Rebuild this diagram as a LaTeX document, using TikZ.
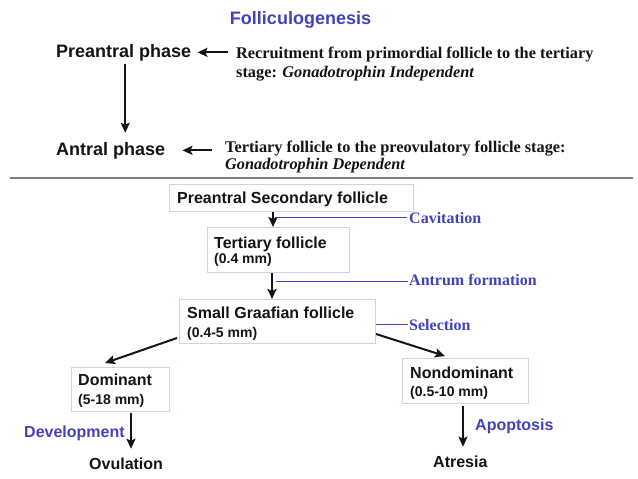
\documentclass[tikz,border=0pt]{standalone}
\usepackage{fontspec}
\setmainfont{Liberation Serif}
\newfontfamily\arialf{Liberation Sans}
\usetikzlibrary{arrows.meta,calc}
\definecolor{ttl}{RGB}{66,66,190}
\definecolor{boxc}{RGB}{208,208,240}
\definecolor{sepc}{RGB}{128,128,128}
\definecolor{ink}{RGB}{20,20,20}
\begin{document}
\begin{tikzpicture}[x=1pt,y=-1pt,
  big/.style={font=\arialf\bfseries\fontsize{18}{21}\selectfont, text=ink, inner sep=0pt, anchor=base west},
  lab/.style={font=\arialf\bfseries\fontsize{16}{19}\selectfont, text=ink, inner sep=0pt, anchor=base west},
  sm/.style={font=\arialf\bfseries\fontsize{14}{17}\selectfont, text=ink, inner sep=0pt, anchor=base west},
  ser/.style={font=\bfseries\fontsize{16.3}{19}\selectfont, text=ink, inner sep=0pt, anchor=base west},
  serb/.style={font=\bfseries\fontsize{16}{19}\selectfont, text=ttl, inner sep=0pt, anchor=base west},
  box/.style={draw=boxc, line width=1pt, inner sep=0pt, anchor=north west},
  arr/.style={draw=ink, line width=2pt, -{Stealth[length=10pt,width=9pt,inset=2pt]}},
  bline/.style={draw=ttl, line width=1pt},
  sepline/.style={draw=sepc, line width=2pt}]
\useasboundingbox (0,0) rectangle (638,479);

% upper part
\node[big, anchor=base, text=ttl] (title) at (300.5,24) {Folliculogenesis};
\node[big] (pre) at (56,57) {Preantral phase};
\node[ser] (rec1) at (236,58) {Recruitment from primordial follicle to the tertiary};
\node[ser] (rec2) at (236,77) {stage: \textit{Gonadotrophin Independent}};
\node[big] (ant) at (56,155) {Antral phase};
\node[ser] (ter1) at (225,152) {Tertiary follicle to the preovulatory follicle stage:};
\node[ser] (ter2) at (225,169) {\textit{Gonadotrophin Dependent}};

\draw[arr] ([xshift=-8pt]rec1.west |- pre.east) -- ([xshift=6pt]pre.east);
\draw[arr] ([xshift=-13pt]ter1.west |- ant.east) -- ([xshift=17pt]ant.east);
\coordinate (vtop) at ([xshift=1.5pt,yshift=-3pt]pre.south);
\coordinate (antn) at ([yshift=9pt]ant.north);
\draw[arr] (vtop) -- (vtop |- antn);

\coordinate (sepl) at (10,178);
\coordinate (sepr) at (633,178);
\draw[sepline] (sepl) -- (sepr);

% boxes
\node[box, minimum width=244pt, minimum height=27pt] (psf) at (169,184) {};
\node[box, minimum width=142pt, minimum height=45pt] (tert) at (207,227) {};
\node[box, minimum width=196pt, minimum height=44pt] (sgf) at (179,299) {};
\node[box, minimum width=98pt, minimum height=44pt] (dom) at (71,367) {};
\node[box, minimum width=126pt, minimum height=45pt] (nd) at (402,358) {};

\node[lab] (psft) at (177,203) {Preantral Secondary follicle};
\node[lab] (tertt) at (214,248) {Tertiary follicle};
\node[sm] (terts) at (214,263) {(0.4 mm)};
\node[lab] (sgft) at (187,318) {Small Graafian follicle};
\node[sm] (sgfs) at (187,337) {(0.4-5 mm)};
\node[lab] (domt) at (78,385) {Dominant};
\node[sm] (doms) at (78,404) {(5-18 mm)};
\node[lab] (ndt) at (410,378) {Nondominant};
\node[sm] (nds) at (410,396) {(0.5-10 mm)};
\node[lab] (ov) at (89,469) {Ovulation};
\node[lab] (atr) at (433,467) {Atresia};
\node[lab, text=ttl] (dev) at (24,437) {Development};
\node[lab, text=ttl] (apo) at (475,430) {Apoptosis};
\node[serb] (cav) at (409,223) {Cavitation};
\node[serb] (antr) at (409,285) {Antrum formation};
\node[serb] (sel) at (409,330) {Selection};

% arrows between boxes
\coordinate (a1) at ([xshift=104pt]psf.south west);
\draw[arr] (a1) -- (a1 |- tert.north);
\coordinate (a2) at ([xshift=65pt]tert.south west);
\draw[arr] (a2) -- (a2 |- sgf.north);
\draw[bline] ([xshift=-2pt]cav.west) -- ([xshift=2pt]a1 |- cav.west);
\draw[bline] ([xshift=-1pt,yshift=-2pt]antr.west) -- ([xshift=4pt,yshift=-2pt]a2 |- antr.west);
\draw[bline] ([xshift=-1pt]sel.west) -- (sel.west -| sgf.east);

\draw[arr] ([xshift=-2pt,yshift=6pt]sgf.south west) -- ([xshift=34pt,yshift=4pt]dom.north west);
\draw[arr] ([yshift=10pt]sgf.south east) -- ([xshift=43pt,yshift=2pt]nd.north west);

\coordinate (a3) at ([xshift=60pt,yshift=-1pt]dom.south west);
\coordinate (ovn) at ([yshift=8.5pt]ov.north);
\draw[arr] (a3) -- (a3 |- ovn);
\coordinate (a4) at ([xshift=61pt,yshift=-2pt]nd.south west);
\coordinate (atn) at ([yshift=8.5pt]atr.north);
\draw[arr] (a4) -- (a4 |- atn);
\end{tikzpicture}
\end{document}
